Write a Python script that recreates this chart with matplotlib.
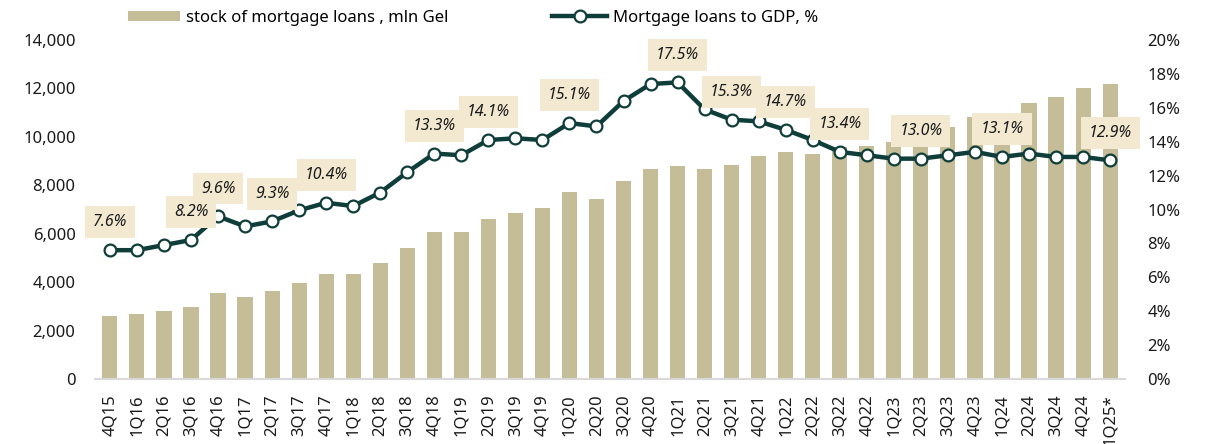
import matplotlib
matplotlib.use("Agg")
import matplotlib.pyplot as plt
from matplotlib.ticker import FuncFormatter, MultipleLocator

plt.rcParams['font.family'] = ['Noto Sans', 'DejaVu Sans']

quarters = ["4Q15", "1Q16", "2Q16", "3Q16", "4Q16", "1Q17", "2Q17", "3Q17", "4Q17",
            "1Q18", "2Q18", "3Q18", "4Q18", "1Q19", "2Q19", "3Q19", "4Q19", "1Q20",
            "2Q20", "3Q20", "4Q20", "1Q21", "2Q21", "3Q21", "4Q21", "1Q22", "2Q22",
            "3Q22", "4Q22", "1Q23", "2Q23", "3Q23", "4Q23", "1Q24", "2Q24", "3Q24",
            "4Q24", "1Q25*"]

stock_mln_gel = [2600, 2680, 2800, 2970, 3550, 3390, 3630, 3960, 4340,
                 4340, 4790, 5410, 6070, 6070, 6610, 6870, 7060, 7740,
                 7420, 8180, 8660, 8800, 8660, 8840, 9220, 9380, 9290,
                 9590, 9620, 9770, 9900, 10400, 10830, 10850, 11380, 11660,
                 12000, 12190]

mortgage_to_gdp = [7.6, 7.6, 7.9, 8.2, 9.6, 9.0, 9.3, 9.95, 10.4,
                   10.2, 11.0, 12.2, 13.3, 13.2, 14.1, 14.2, 14.1, 15.1,
                   14.9, 16.4, 17.4, 17.5, 15.9, 15.3, 15.2, 14.7, 14.1,
                   13.4, 13.2, 13.0, 13.0, 13.2, 13.4, 13.1, 13.3, 13.1,
                   13.1, 12.9]

labelled_idx = [0, 3, 4, 6, 8, 12, 14, 17, 21, 23, 25, 27, 30, 33, 37]

bar_color = '#C4BD97'
line_color = '#0F3D3A'
box_color = '#F2E9D0'
text_color = '#1A1A1A'

fig = plt.figure(figsize=(12.06, 4.44), dpi=100)
ax = fig.add_axes([95/1206, 1-379/444, (1125-95)/1206, (379-40)/444])
ax2 = ax.twinx()

x = list(range(len(quarters)))
bars = ax.bar(x, stock_mln_gel, width=0.56, color=bar_color, zorder=2,
              label='stock of mortgage loans , mln Gel')
ax.set_ylim(0, 14000)
ax.set_xlim(-0.55, len(quarters) - 0.45)
ax.yaxis.set_major_locator(MultipleLocator(2000))
ax.yaxis.set_major_formatter(FuncFormatter(lambda v, p: f"{int(v):,}"))
ax.set_xticks(x)
ax.set_xticklabels(quarters, rotation=90)

line, = ax2.plot(x, mortgage_to_gdp, color=line_color, lw=3.2, marker='o',
                 markersize=8.5, markerfacecolor='white', markeredgecolor=line_color,
                 markeredgewidth=1.6, zorder=5, label='Mortgage loans to GDP, %')
ax2.set_ylim(0, 20)
ax2.yaxis.set_major_locator(MultipleLocator(2))
ax2.yaxis.set_major_formatter(FuncFormatter(lambda v, p: f"{int(round(v))}%"))

for i in labelled_idx:
    ax2.annotate(f"{mortgage_to_gdp[i]:.1f}%", (x[i], mortgage_to_gdp[i]),
                 xytext=(0, 20), textcoords='offset points', ha='center', va='center',
                 fontsize=11.5, fontstyle='italic', color=text_color, zorder=6,
                 bbox=dict(boxstyle='square,pad=0.5', fc=box_color, ec='none'))

for a in (ax, ax2):
    for s in ('top', 'left', 'right', 'bottom'):
        a.spines[s].set_visible(False)
    a.tick_params(length=0, labelsize=12, colors=text_color)
ax.spines['bottom'].set_visible(True)
ax.spines['bottom'].set_color('#D9D9D9')
ax.spines['bottom'].set_linewidth(1.5)
ax.tick_params(axis='y', pad=14)
ax.tick_params(axis='x', pad=11)
ax2.tick_params(axis='y', pad=16)

fig.legend(handles=[bars], loc='center left', bbox_to_anchor=(128/1206, 1-18/444),
           frameon=False, fontsize=12, handlelength=3.1, handleheight=0.6,
           handletextpad=0.4, borderpad=0, borderaxespad=0)
fig.legend(handles=[line], loc='center left', bbox_to_anchor=(552/1206, 1-18/444),
           frameon=False, fontsize=12, handlelength=3.3, numpoints=1,
           handletextpad=0.35, borderpad=0, borderaxespad=0)

fig.savefig('out.png', dpi=100)
